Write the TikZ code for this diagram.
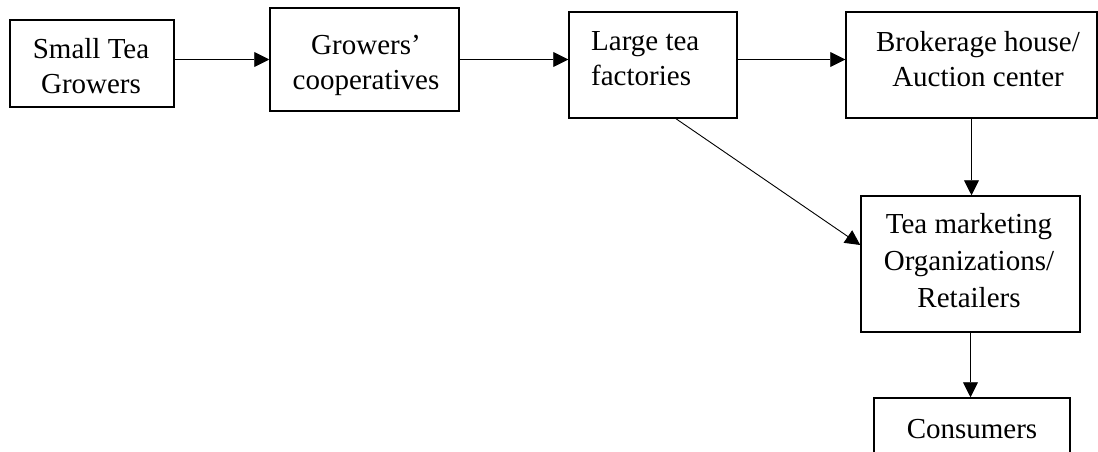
\documentclass[tikz,border=0pt]{standalone}
\usepackage{fontspec}
\setmainfont{Liberation Serif}
\usetikzlibrary{arrows.meta}
\begin{document}
\begin{tikzpicture}[x=1pt,y=1pt,
  box/.style={draw, line width=1.5pt, inner sep=0pt},
  lbl/.style={font=\fontsize{29}{35}\selectfont, inner sep=0pt},
  flow/.style={line width=0.9pt, -{Triangle[length=15pt,width=15pt]}}]
  % page area
  \clip (0,0) rectangle (1098,-452);

  % boxes
  \node[box, minimum width=164pt, minimum height=87pt]  (b1) at (92,-63.5)   {};
  \node[box, minimum width=189pt, minimum height=103pt] (b2) at (364.5,-59.5) {};
  \node[box, minimum width=168pt, minimum height=106pt] (b3) at (653,-65)     {};
  \node[box, minimum width=251pt, minimum height=106pt] (b4) at (971.5,-65)   {};
  \node[box, minimum width=219pt, minimum height=136pt] (b5) at (970.5,-264)  {};
  \node[box, minimum width=196pt, minimum height=82pt]  (b6) at (972,-439)    {};

  % texts (anchored at the baseline of their last line)
  \node[lbl, align=center, anchor=base] (t1) at (91,-93)   {Small Tea\\Growers};
  \node[lbl, align=center, anchor=base] (t2) at (366,-89.5) {Growers’\\cooperatives};
  \node[lbl, align=left, anchor=base west] (t3) at (591,-85.5) {Large tea\\factories};
  \node[lbl, align=center, anchor=base] (t4) at (978,-86)  {Brokerage house/\\Auction center};
  \node[lbl, align=center, anchor=base, font=\fontsize{29}{37}\selectfont] (t5) at (969,-307) {Tea marketing\\Organizations/\\Retailers};
  \node[lbl, anchor=base] (t6) at (972,-438) {Consumers};

  % connectors
  \draw[flow] (b1.east |- b2.west) -- (b2.west);
  \draw[flow] (b2.east) -- (b3.west |- b2.east);
  \draw[flow] (b3.east |- b2.east) -- (b4.west |- b2.east);
  \draw[flow] (b4.south) -- (b4.south |- b5.north);
  \draw[flow] ([xshift=23pt]b3.south) -- ([yshift=19pt]b5.west);
  \draw[flow] (b5.south) -- (b5.south |- b6.north);
\end{tikzpicture}
\end{document}
